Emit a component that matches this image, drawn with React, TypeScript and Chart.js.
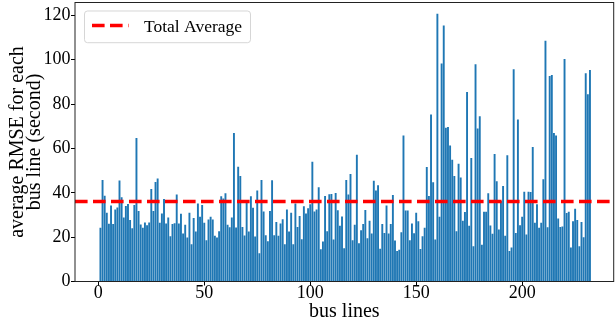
import React, { useEffect, useRef } from "react";
import { Chart, registerables } from "chart.js";

Chart.register(...registerables);

// average RMSE (seconds) for each bus line, lines 1..232
const rmseLines001to039 = [
  24.2, 45.8, 38.7, 31, 26, 34.3, 25.9, 32.5, 33.4, 45.5, 38, 28.9, 34, 34.9, 27.7, 24, 34.5, 64.7, 31.8, 25.7,
  24.2, 26.6, 25.4, 26.6, 41.7, 31.8, 44.9, 46.4, 26.5, 30.7, 37.2, 26.2, 28.9, 20.4, 25.9, 26.3, 39.2, 26.2, 30.5,
];
const rmseLines040to079 = [
  21.6, 25.6, 19.8, 31, 16.8, 28.6, 22.5, 35.2, 29.2, 34.5, 26.5, 18.6, 28, 29.2, 28, 20.6, 19.8, 22.7, 38.4, 37.4,
  39.8, 25.6, 24.5, 28.9, 67, 24.4, 51.7, 47.6, 24.6, 20.7, 35.5, 22.5, 38.4, 33.3, 20.3, 41, 12.7, 45.8, 31.6, 20.9,
];
const rmseLines080to119 = [
  18.1, 31.8, 45.7, 20.9, 26.8, 20.6, 26.2, 28.1, 16.8, 32.5, 22.5, 31, 16.8, 35.2, 24.6, 29.5, 19.1, 33.9, 30.7, 33,
  34.8, 54, 31.6, 32.5, 42.5, 14.5, 18, 38.6, 22.7, 39.3, 39.5, 18.9, 39.9, 32.1, 25.1, 29.3, 15, 45.8, 39.2, 48.5,
];
const rmseLines120to158 = [
  18.6, 25.6, 57.2, 17.2, 23.1, 25.9, 32.2, 19.5, 27.4, 21.6, 45.4, 41, 43.4, 14.8, 25.9, 21.9, 34.3, 21.6, 25.9, 39,
  18.5, 13.8, 14.3, 22.2, 65.8, 32, 32, 18.6, 26.2, 21.8, 31, 27.2, 14.6, 20.4, 24.2, 51.6, 38.6, 75.3, 44.8,
];
const rmseLines159to198 = [
  18.9, 120.7, 29.2, 98.3, 115.4, 69.3, 69.7, 61.3, 54.9, 47.6, 22.7, 53.1, 46.9, 27.4, 31.3, 85.4, 25.1, 55.7, 15.9, 98,
  69, 74.5, 16.6, 31.5, 31.5, 39.8, 25.3, 21.5, 57.5, 45.2, 23.4, 36.3, 43.1, 20.6, 56.9, 13.7, 15.3, 95.7, 21.9, 73,
];
const rmseLines199to232 = [
  25.4, 29.2, 40.5, 21.2, 40.5, 40.4, 60.6, 26.5, 34.8, 24.2, 26.5, 46.1, 108.6, 24.5, 92.7, 93.1, 67, 65.8, 28.4, 24.6,
  24.8, 100.3, 30.9, 31.5, 15.3, 27.2, 32.8, 27.7, 15.9, 26.8, 20, 93.9, 84.4, 95.4,
];

const rmseValues = [
  ...rmseLines001to039,
  ...rmseLines040to079,
  ...rmseLines080to119,
  ...rmseLines120to158,
  ...rmseLines159to198,
  ...rmseLines199to232,
];
const busLineIds = rmseValues.map((_, i) => i + 1);

const totalAverage = 36.1;
const legendLabel = "Total Average";
const xTitle = "bus lines";
const yTitle = ["average RMSE for each", "bus line (second)"];
const xRange = [-11, 243.2];
const yRange = [0, 125.8];
const xTickStep = 50;
const yTickStep = 20;

const FONT = "'Liberation Serif', 'Times New Roman', serif";
const DASH = [12.6, 5.4];
const LINE_W = 3.5;

const framePlugin = {
  id: "frameAndLegend",
  afterDraw(chart: any) {
    const { ctx, chartArea } = chart;
    ctx.save();
    // axes frame
    ctx.strokeStyle = "#222";
    ctx.lineWidth = 1;
    ctx.strokeRect(chartArea.left, chartArea.top, chartArea.right - chartArea.left, chartArea.bottom - chartArea.top);

    // legend box
    const bx = chartArea.left + 9.5;
    const by = chartArea.top + 8.5;
    const bw = 166;
    const bh = 31.7;
    const r = 3;
    ctx.beginPath();
    ctx.moveTo(bx + r, by);
    ctx.lineTo(bx + bw - r, by);
    ctx.quadraticCurveTo(bx + bw, by, bx + bw, by + r);
    ctx.lineTo(bx + bw, by + bh - r);
    ctx.quadraticCurveTo(bx + bw, by + bh, bx + bw - r, by + bh);
    ctx.lineTo(bx + r, by + bh);
    ctx.quadraticCurveTo(bx, by + bh, bx, by + bh - r);
    ctx.lineTo(bx, by + r);
    ctx.quadraticCurveTo(bx, by, bx + r, by);
    ctx.closePath();
    ctx.fillStyle = "rgba(255,255,255,0.8)";
    ctx.fill();
    ctx.strokeStyle = "rgba(204,204,204,0.8)";
    ctx.stroke();

    // legend handle
    ctx.beginPath();
    ctx.setLineDash(DASH);
    ctx.lineDashOffset = 0;
    ctx.lineCap = "butt";
    ctx.strokeStyle = "#ff0000";
    ctx.lineWidth = LINE_W;
    ctx.moveTo(bx + 7.5, by + 14.5);
    ctx.lineTo(bx + 44, by + 14.5);
    ctx.stroke();
    ctx.setLineDash([]);

    // legend text
    ctx.fillStyle = "#000";
    ctx.font = `17.5px ${FONT}`;
    ctx.textAlign = "left";
    ctx.textBaseline = "alphabetic";
    ctx.fillText(legendLabel, bx + 59.5, by + 21);
    ctx.restore();
  },
};

export default function App() {
  const canvasRef = useRef<HTMLCanvasElement | null>(null);

  useEffect(() => {
    const canvas = canvasRef.current;
    if (!canvas) return;
    const chart = new Chart(canvas, {
      type: "bar",
      data: {
        datasets: [
          {
            type: "line",
            label: legendLabel,
            data: [
              { x: xRange[0], y: totalAverage },
              { x: xRange[1], y: totalAverage },
            ],
            borderColor: "#ff0000",
            borderWidth: LINE_W,
            borderDash: DASH,
            borderCapStyle: "butt",
            pointRadius: 0,
            fill: false,
            order: 0,
          } as any,
          {
            type: "bar",
            label: "RMSE",
            data: busLineIds.map((x, i) => ({ x, y: rmseValues[i] })),
            backgroundColor: "#1f77b4",
            borderWidth: 0,
            barPercentage: 0.9,
            categoryPercentage: 1,
            order: 1,
          } as any,
        ],
      },
      options: {
        responsive: false,
        animation: false,
        devicePixelRatio: 1,
        layout: { padding: { top: 2.5, right: 2.3, left: 0, bottom: 0 } },
        plugins: { legend: { display: false }, tooltip: { enabled: false } },
        scales: {
          x: {
            type: "linear",
            min: xRange[0],
            max: xRange[1],
            offset: false,
            afterFit: (s: any) => {
              s.height = 38.5;
              s.paddingLeft = 0;
              s.paddingRight = 0;
            },
            ticks: {
              stepSize: xTickStep,
              includeBounds: false,
              maxRotation: 0,
              autoSkip: false,
              color: "#000",
              padding: -1.5,
              font: { family: FONT, size: 18, lineHeight: 1 },
            },
            grid: { offset: false, drawOnChartArea: false, drawTicks: true, tickLength: 4, color: "#000" },
            border: { display: false },
            title: {
              display: true,
              text: xTitle,
              color: "#000",
              font: { family: FONT, size: 20, lineHeight: "16px" },
              padding: { top: 0, bottom: 0 },
            },
          },
          y: {
            min: yRange[0],
            max: yRange[1],
            afterFit: (s: any) => {
              s.width = 75;
              s.paddingTop = 0;
              s.paddingBottom = 0;
            },
            ticks: {
              stepSize: yTickStep,
              includeBounds: false,
              color: "#000",
              padding: 0.5,
              font: { family: FONT, size: 18 },
            },
            grid: { drawOnChartArea: false, drawTicks: true, tickLength: 4, color: "#000" },
            border: { display: false },
            title: {
              display: true,
              text: yTitle,
              color: "#000",
              font: { family: FONT, size: 20, lineHeight: "16.7px" },
              padding: { top: 9.5, bottom: 0 },
            },
          },
        },
      } as any,
      plugins: [framePlugin],
    });
    return () => chart.destroy();
  }, []);

  return (
    <div style={{ position: "absolute", left: 0, top: 0, width: 616, height: 320, background: "#fff" }}>
      <canvas ref={canvasRef} width={616} height={320} />
    </div>
  );
}
